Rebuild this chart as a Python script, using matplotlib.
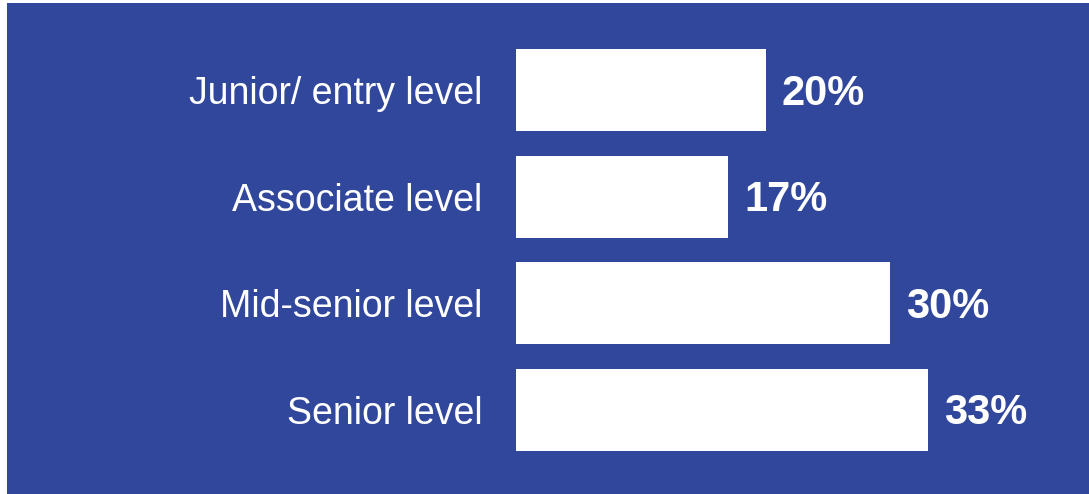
import matplotlib.pyplot as plt
from matplotlib.patches import Rectangle

levels = ["Junior/ entry level", "Associate level", "Mid-senior level", "Senior level"]
shares = [20, 17, 30, 33]

blue = "#31479b"

fig = plt.figure(figsize=(10.89, 4.94), dpi=100)
fig.patch.set_facecolor("white")
# blue panel, leaving a thin white strip at the left and top
fig.patches.append(Rectangle((7 / 1089, 0), 1 - 7 / 1089, 491 / 494,
                             transform=fig.transFigure, facecolor=blue,
                             edgecolor="none", zorder=-1))

ax = fig.add_axes([516 / 1089, 0, 1 - 516 / 1089, 491 / 494])
ax.set_facecolor("none")
ax.set_zorder(2)

ypos = list(range(len(levels)))
ax.barh(ypos, shares, height=0.77, color="white", edgecolor="none")

ax.set_xlim(0, (1089 - 516) / 12.48)
ax.set_ylim(3.793, -0.817)

ax.set_yticks(ypos)
ax.set_yticklabels(levels, fontsize=27, color="white", family="Liberation Sans")
ax.tick_params(axis="y", length=0, pad=24)
ax.set_xticks([])
for s in ax.spines.values():
    s.set_visible(False)

for y, v in zip(ypos, shares):
    ax.annotate(f"{v}%", (v, y), xytext=(11.5, -10.6), textcoords="offset points",
                ha="left", va="baseline", fontsize=30, fontweight="bold",
                color="white", family="Liberation Sans")

fig.savefig("out.png", dpi=100)
